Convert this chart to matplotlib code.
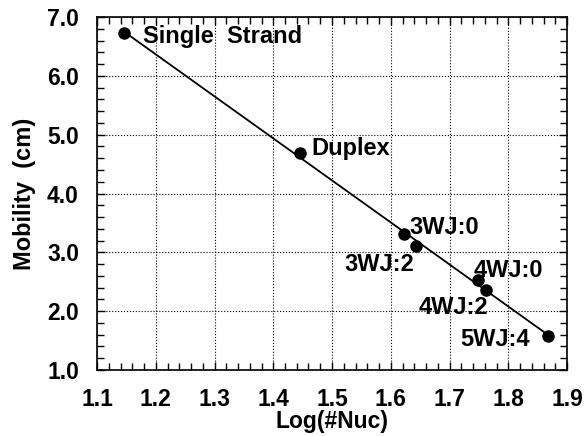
import matplotlib
matplotlib.use("Agg")
import matplotlib.pyplot as plt
import numpy as np
from matplotlib.ticker import MultipleLocator, FormatStrFormatter

labels = ["Single  Strand", "Duplex", "3WJ:0", "3WJ:2", "4WJ:0", "4WJ:2", "5WJ:4"]
log_nuc = [1.146, 1.445, 1.623, 1.643, 1.748, 1.762, 1.868]
mobility = [6.73, 4.69, 3.32, 3.11, 2.53, 2.36, 1.57]

plt.rcParams['font.family'] = ['Liberation Sans', 'DejaVu Sans']
plt.rcParams['font.weight'] = 'bold'

fig = plt.figure(figsize=(5.88, 4.36), dpi=100)
ax = fig.add_axes([97/588, 1-370/436, 470/588, 353/436])

x = np.array(log_nuc)
y = np.array(mobility)
m, b = np.polyfit(x, y, 1)
xl = np.array([x[0], x[-1]])
ax.plot(xl, m*xl + b, color='black', lw=1.3, zorder=3)
ax.plot(x, y, 'o', color='black', ms=8, zorder=4)

# (dx, dy in points, horizontal alignment), baseline-anchored
offsets = [(13.5, -7, 'left'), (8.5, -1.5, 'left'), (3.5, 0, 'left'),
           (-1, -18, 'right'), (-3, 2, 'left'), (2, -17, 'right'), (-13.5, -7, 'right')]
for lab, xi, yi, (dx, dy, ha) in zip(labels, x, y, offsets):
    ax.annotate(lab, (xi, yi), xytext=(dx, dy), textcoords='offset points',
                fontsize=17, fontweight='bold', va='baseline', ha=ha)

ax.set_xlim(1.1, 1.9)
ax.set_ylim(1.0, 7.0)
ax.xaxis.set_major_locator(MultipleLocator(0.1))
ax.xaxis.set_minor_locator(MultipleLocator(0.02))
ax.yaxis.set_major_locator(MultipleLocator(1.0))
ax.yaxis.set_minor_locator(MultipleLocator(0.2))
ax.xaxis.set_major_formatter(FormatStrFormatter('%.1f'))
ax.yaxis.set_major_formatter(FormatStrFormatter('%.1f'))
ax.tick_params(which='both', direction='in', top=True, right=True, width=1)
ax.tick_params(which='major', length=6, labelsize=16.5)
ax.tick_params(axis='y', which='major', pad=13)
ax.tick_params(axis='x', which='major', pad=13)
ax.tick_params(which='minor', length=5)
ax.grid(True, which='major', linestyle=':', color='black', lw=0.8)
for s in ax.spines.values():
    s.set_linewidth(1.2)

ax.set_xlabel('Log(#Nuc)', fontsize=16.5, fontweight='bold', labelpad=-1)
ax.set_ylabel('Mobility  (cm)', fontsize=17, fontweight='bold', labelpad=8)

fig.savefig('out.png', dpi=100)
